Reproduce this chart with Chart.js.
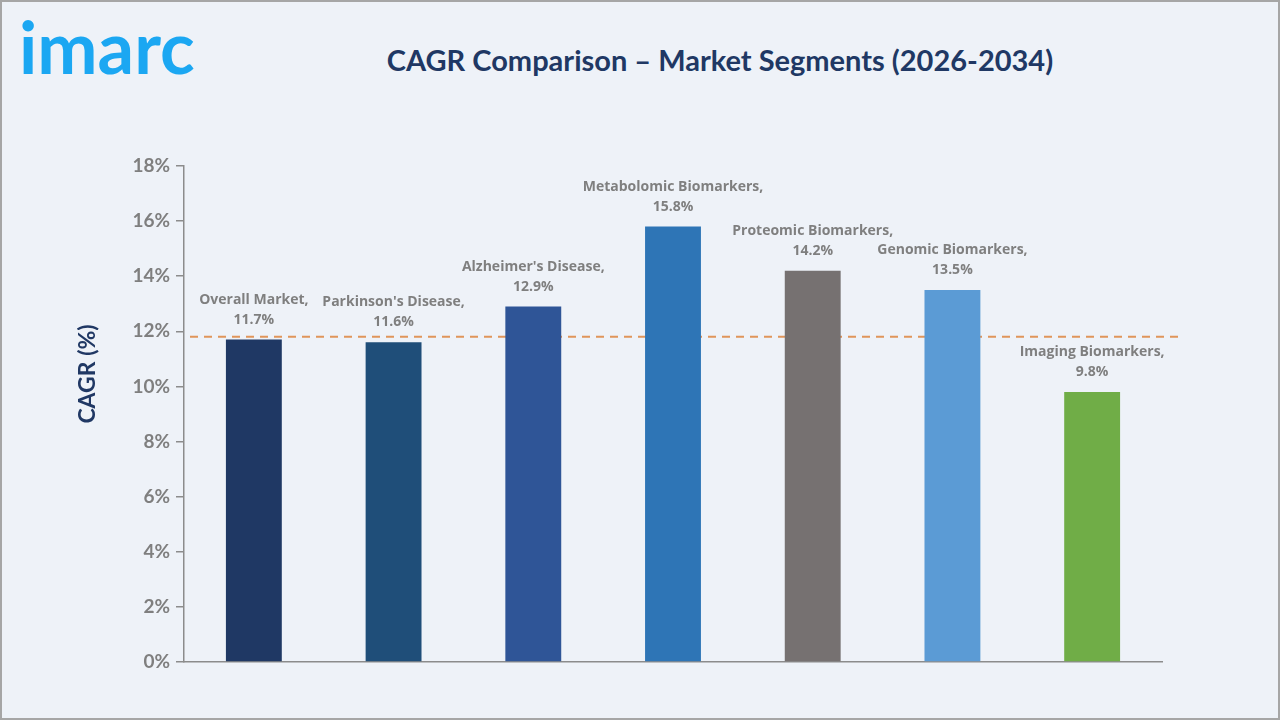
<!DOCTYPE html>
<html>
<head>
<meta charset="utf-8">
<script src="https://cdn.jsdelivr.net/npm/chart.js@4.4.1/dist/chart.umd.min.js"></script>
<style>
  html, body { margin: 0; padding: 0; }
  body { width: 1280px; height: 720px; background: #eef2f8; position: relative; overflow: hidden; }
  .frame { position: absolute; left: 0; top: 0; width: 1276px; height: 716px; border: 2px solid #a6a6a6; }
  .logo { position: absolute; left: 19px; top: 10px; font-family: 'Lato', sans-serif; font-weight: 700;
          font-size: 72px; color: #1ba7f2; letter-spacing: 0px; line-height: 1; }
  .title { position: absolute; left: 270px; width: 900px; top: 42px; text-align: center;
           font-family: 'Lato', 'Open Sans', sans-serif; font-weight: 700; font-size: 29px; color: #203864; }
  #wrap { position: absolute; left: 0; top: 0; width: 1280px; height: 720px; }
</style>
</head>
<body>
<div class="frame"></div>
<div class="logo">imarc</div>
<div class="title">CAGR Comparison – Market Segments (2026-2034)</div>
<div id="wrap"><canvas id="chart"></canvas></div>
<script>
const segments = ['Overall Market', "Parkinson's Disease", "Alzheimer's Disease", 'Metabolomic Biomarkers',
  'Proteomic Biomarkers', 'Genomic Biomarkers', 'Imaging Biomarkers'];
const cagr = [11.7, 11.6, 12.9, 15.8, 14.2, 13.5, 9.8];
const barColors = ['#1f3864', '#1f4e79', '#2f5597', '#2e75b6', '#767171', '#5b9bd5', '#70ad47'];
const referenceLine = 11.8;

const refLinePlugin = {
  id: 'refLine',
  beforeDatasetsDraw(chart) {
    const { ctx, chartArea, scales } = chart;
    const y = scales.y.getPixelForValue(referenceLine);
    ctx.save();
    ctx.strokeStyle = '#e0955a';
    ctx.lineWidth = 2;
    ctx.setLineDash([8, 6]);
    ctx.beginPath();
    ctx.moveTo(chartArea.left + 6, y);
    ctx.lineTo(chartArea.right + 18, y);
    ctx.stroke();
    ctx.restore();
  }
};

const barLabelPlugin = {
  id: 'barLabels',
  afterDatasetsDraw(chart) {
    const { ctx } = chart;
    const meta = chart.getDatasetMeta(0);
    ctx.save();
    ctx.font = 'bold 14px "Open Sans", sans-serif';
    ctx.fillStyle = '#7f7f7f';
    ctx.textAlign = 'center';
    ctx.textBaseline = 'alphabetic';
    meta.data.forEach((bar, i) => {
      ctx.fillText(segments[i] + ',', bar.x, bar.y - 36);
      ctx.fillText(cagr[i].toFixed(1) + '%', bar.x, bar.y - 16);
    });
    // y axis title
    ctx.translate(88, 374);
    ctx.rotate(-Math.PI / 2);
    ctx.font = 'bold 23px Lato, "Open Sans", sans-serif';
    ctx.fillStyle = '#203864';
    ctx.textBaseline = 'middle';
    ctx.fillText('CAGR (%)', 0, 0);
    ctx.restore();
  }
};

new Chart(document.getElementById('chart'), {
  type: 'bar',
  data: {
    labels: segments,
    datasets: [{
      data: cagr,
      backgroundColor: barColors,
      borderWidth: 0,
      categoryPercentage: 1,
      barPercentage: 0.4
    }]
  },
  options: {
    responsive: true,
    maintainAspectRatio: false,
    animation: false,
    layout: { padding: { left: 76, top: 166, right: 118, bottom: 50 } },
    plugins: {
      legend: { display: false },
      tooltip: { enabled: false }
    },
    scales: {
      x: {
        grid: { display: false },
        ticks: { display: false },
        border: { display: true, color: '#8c8c8c', width: 1.5 }
      },
      y: {
        min: 0,
        max: 18,
        afterFit(scale) { scale.width = 108; },
        ticks: {
          stepSize: 2,
          color: '#7f7f7f',
          font: { family: 'Lato, "Open Sans", sans-serif', size: 19, weight: 'bold' },
          padding: 6,
          callback: v => v + '%'
        },
        grid: { display: true, drawOnChartArea: false, tickLength: 8, color: '#8c8c8c', lineWidth: 1.5 },
        border: { display: true, color: '#8c8c8c', width: 1.5 }
      }
    }
  },
  plugins: [refLinePlugin, barLabelPlugin]
});
</script>
</body>
</html>
